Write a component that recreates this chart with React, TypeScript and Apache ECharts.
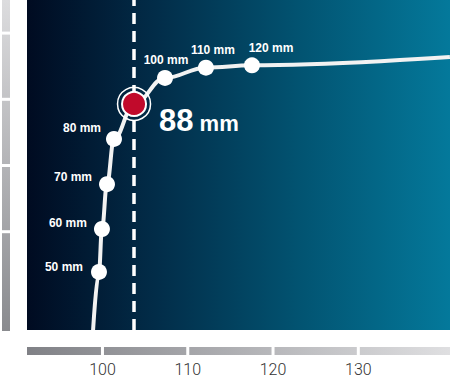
import React, { useEffect, useRef } from "react";
import * as echarts from "echarts";

// ---- data ----
const X_MIN = 91.15;
const X_MAX = 140.75;
const xTicks = [100, 110, 120, 130];
const Y_MIN = 0;
const Y_MAX = 100;
const yBreaks = [30, 50, 70, 90];
const curveX = [98.9, 99.59, 99.94, 100.53, 101.35, 103.7, 107.33, 112.13, 117.53, 140.74];
const curveY = [0, 17.6, 30.6, 44.2, 57.9, 68.5, 76.4, 79.5, 80.2, 82.7];
const pointLabels = ["", "50 mm", "60 mm", "70 mm", "80 mm", "88 mm", "100 mm", "110 mm", "120 mm", ""];
const highlightIndex = 5;
const highlightValue = "88";
const highlightUnit = "mm";
const markerX = 103.7;

const FONT = "'Liberation Sans', Arial, sans-serif";

// label placement per marker (style, not data)
const labelPlacement: Record<number, any> = {
  1: { position: "left", distance: 8, offset: [0, -5] },
  2: { position: "left", distance: 7, offset: [0, -6] },
  3: { position: "left", distance: 7, offset: [0, -7] },
  4: { position: "left", distance: 5, offset: [0, -11] },
  6: { position: "top", distance: 4, offset: [1, 0] },
  7: { position: "top", distance: 4, offset: [7, 0] },
  8: { position: "top", distance: 3, offset: [19, 0] },
};

function segments(breaks: number[], lo: number, hi: number) {
  const b = [lo, ...breaks, hi];
  const out: number[][] = [];
  for (let i = 0; i < b.length - 1; i++) out.push([b[i], b[i + 1]]);
  return out;
}

export default function App() {
  const ref = useRef<HTMLDivElement>(null);
  useEffect(() => {
    if (!ref.current) return;
    const chart = echarts.init(ref.current, undefined, { renderer: "svg" });

    const bgGrad = new echarts.graphic.LinearGradient(0, 0, 1, 0, [
      { offset: 0, color: "#000b21" },
      { offset: 0.3, color: "#022c48" },
      { offset: 0.65, color: "#025472" },
      { offset: 1, color: "#04799b" },
    ]);
    const bottomGrad = {
      type: "linear", x: 27, y: 0, x2: 450, y2: 0, global: true,
      colorStops: [
        { offset: 0, color: "#808186" },
        { offset: 1, color: "#dfdfe1" },
      ],
    };
    const leftGrad = {
      type: "linear", x: 0, y: 0, x2: 0, y2: 331, global: true,
      colorStops: [
        { offset: 0, color: "#dcdcde" },
        { offset: 1, color: "#8a8b8f" },
      ],
    };

    const lineData = curveX.map((x, i) => {
      const has = pointLabels[i] !== "" && i !== highlightIndex;
      const lp = labelPlacement[i] || {};
      return {
        value: [x, curveY[i]],
        symbol: has ? "circle" : "none",
        label: has
          ? {
              show: true,
              formatter: pointLabels[i],
              color: "#ffffff",
              fontFamily: FONT,
              fontWeight: "bold",
              fontSize: 12,
              ...lp,
            }
          : { show: false },
      };
    });

    chart.setOption({
      animation: false,
      grid: [
        { left: 27, right: 0, top: 0, height: 330, show: true, backgroundColor: bgGrad, borderWidth: 0 },
        { left: 27, right: 0, top: 347, height: 8 },
        { left: 2, width: 8, top: 0, height: 331 },
      ],
      xAxis: [
        { type: "value", gridIndex: 0, min: X_MIN, max: X_MAX, show: false },
        {
          type: "value", gridIndex: 1, min: X_MIN, max: X_MAX,
          axisLine: { show: false }, axisTick: { show: false }, splitLine: { show: false },
          axisLabel: {
            customValues: xTicks, margin: 6, color: "#333333", fontSize: 16,
            fontFamily: "Roboto, 'Liberation Sans', sans-serif", fontWeight: 300,
          },
        },
        { type: "value", gridIndex: 2, min: 0, max: 1, show: false },
      ],
      yAxis: [
        { type: "value", gridIndex: 0, min: Y_MIN, max: Y_MAX, show: false },
        { type: "value", gridIndex: 1, min: 0, max: 1, show: false },
        { type: "value", gridIndex: 2, min: Y_MIN, max: Y_MAX, show: false },
      ],
      series: [
        {
          type: "custom", xAxisIndex: 1, yAxisIndex: 1,
          data: segments(xTicks, X_MIN, X_MAX),
          encode: { x: [0, 1] },
          renderItem: (params: any, api: any) => {
            const a = api.value(0), b = api.value(1);
            const p0 = api.coord([a, 0]);
            const p1 = api.coord([b, 1]);
            const gl = a > X_MIN ? 1.5 : 0;
            const gr = b < X_MAX ? 1.5 : 0;
            return {
              type: "rect",
              shape: { x: p0[0] + gl, y: p1[1], width: p1[0] - p0[0] - gl - gr, height: p0[1] - p1[1] },
              style: { fill: bottomGrad },
            };
          },
        },
        {
          type: "custom", xAxisIndex: 2, yAxisIndex: 2,
          data: segments(yBreaks, Y_MIN, Y_MAX),
          encode: { y: [0, 1] },
          renderItem: (params: any, api: any) => {
            const a = api.value(0), b = api.value(1);
            const p0 = api.coord([0, a]);
            const p1 = api.coord([1, b]);
            const gb = a > Y_MIN ? 1.5 : 0;
            const gt = b < Y_MAX ? 1.5 : 0;
            return {
              type: "rect",
              shape: { x: p0[0], y: p1[1] + gt, width: p1[0] - p0[0], height: p0[1] - p1[1] - gt - gb },
              style: { fill: leftGrad },
            };
          },
        },
        {
          type: "line", xAxisIndex: 0, yAxisIndex: 0,
          smooth: 0.4, smoothMonotone: "x",
          showSymbol: true, symbolSize: 16,
          itemStyle: { color: "#ffffff", opacity: 1 },
          lineStyle: { color: "#f2f2f2", width: 4 },
          data: lineData,
          z: 3,
          markLine: {
            silent: true, symbol: "none", label: { show: false },
            lineStyle: { color: "#ffffff", type: [11, 7], width: 3.5, opacity: 1 },
            data: [{ xAxis: markerX }],
            z: 2,
          },
        },
        {
          type: "scatter", xAxisIndex: 0, yAxisIndex: 0, z: 4,
          symbol: "circle", symbolSize: 33,
          itemStyle: { color: "rgba(0,0,0,0)", borderColor: "#ffffff", borderWidth: 1.5, opacity: 1 },
          data: [[markerX, curveY[highlightIndex]]],
        },
        {
          type: "scatter", xAxisIndex: 0, yAxisIndex: 0, z: 5,
          symbol: "circle", symbolSize: 24,
          itemStyle: { color: "#c10a2b", borderColor: "#ffffff", borderWidth: 2, opacity: 1 },
          data: [[markerX, curveY[highlightIndex]]],
          label: {
            show: true, position: "right", distance: 12, offset: [0, 16],
            formatter: `{a|${highlightValue}}{b| ${highlightUnit}}`,
            rich: {
              a: { color: "#ffffff", fontFamily: FONT, fontWeight: "bold", fontSize: 31, lineHeight: 32, verticalAlign: "bottom" },
              b: { color: "#ffffff", fontFamily: FONT, fontWeight: "bold", fontSize: 22, lineHeight: 26, verticalAlign: "bottom", padding: [0, 0, 1, 0] },
            },
          },
        },
      ],
    });
    return () => chart.dispose();
  }, []);
  return <div ref={ref} style={{ width: 450, height: 377, position: "absolute", left: 0, top: 0 }} />;
}
